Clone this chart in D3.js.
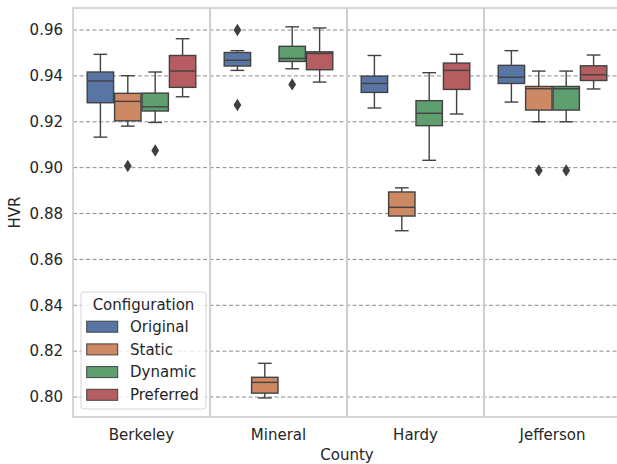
<!DOCTYPE html>
<html>
<head>
<meta charset="utf-8">
<script src="https://cdn.jsdelivr.net/npm/d3@7"></script>
<style>
  body { margin: 0; background: #fff; }
  svg { display: block; font-family: "DejaVu Sans", sans-serif; }
</style>
</head>
<body>
<svg id="chart" width="617" height="464"></svg>
<script>
// counties on the x axis, configurations are the hue
var counties = ["Berkeley", "Mineral", "Hardy", "Jefferson"];
var configs = ["Original", "Static", "Dynamic", "Preferred"];
var colors = ["#5975a4", "#cc8963", "#5f9e6e", "#b55d60"];
var yTicks = [0.80, 0.82, 0.84, 0.86, 0.88, 0.90, 0.92, 0.94, 0.96];

// [whisker low, q1, median, q3, whisker high] per county
var original = [
  [0.9133, 0.9283, 0.9378, 0.9417, 0.9494],
  [0.9424, 0.9443, 0.9468, 0.9502, 0.9510],
  [0.9260, 0.9328, 0.9367, 0.9399, 0.9489],
  [0.9286, 0.9367, 0.9394, 0.9446, 0.9510]
];
var staticCfg = [
  [0.9181, 0.9204, 0.9289, 0.9324, 0.9401],
  [0.7996, 0.8017, 0.8064, 0.8086, 0.8147],
  [0.8725, 0.8789, 0.8827, 0.8894, 0.8912],
  [0.9200, 0.9251, 0.9344, 0.9354, 0.9421]
];
var dynamic = [
  [0.9197, 0.9247, 0.9265, 0.9325, 0.9417],
  [0.9431, 0.9463, 0.9476, 0.9529, 0.9614],
  [0.9032, 0.9183, 0.9237, 0.9292, 0.9414],
  [0.9200, 0.9251, 0.9344, 0.9354, 0.9421]
];
var preferred = [
  [0.9309, 0.9350, 0.9421, 0.9489, 0.9562],
  [0.9373, 0.9427, 0.9498, 0.9505, 0.9609],
  [0.9234, 0.9341, 0.9424, 0.9456, 0.9494],
  [0.9343, 0.9380, 0.9405, 0.9444, 0.9491]
];
// outliers: [county, config, value]
var outliers = [
  ["Berkeley", "Static", 0.9007],
  ["Berkeley", "Dynamic", 0.9075],
  ["Mineral", "Original", 0.9600],
  ["Mineral", "Original", 0.9273],
  ["Mineral", "Dynamic", 0.9363],
  ["Jefferson", "Static", 0.8988],
  ["Jefferson", "Dynamic", 0.8988]
];

var stats = [original, staticCfg, dynamic, preferred];
var boxes = [];
configs.forEach(function(c, ci) {
  counties.forEach(function(county, k) {
    var s = stats[ci][k];
    boxes.push({county: county, config: c, color: colors[ci],
      lo: s[0], q1: s[1], med: s[2], q3: s[3], hi: s[4]});
  });
});

var svg = d3.select("#chart");
var pLeft = 73, pRight = 621, pTop = 8, pBottom = 417;
var fs = 15;

var x = d3.scaleBand().domain(counties).range([pLeft, pRight]).padding(0);
var xInner = d3.scaleBand().domain(configs)
  .range([x.bandwidth() * 0.1, x.bandwidth() * 0.9]).padding(0);
var y = d3.scaleLinear().domain([0.7913, 0.9696]).range([pBottom, pTop]);

// gridlines
svg.append("g").selectAll("line").data(yTicks).enter().append("line")
  .attr("x1", pLeft).attr("x2", pRight)
  .attr("y1", function(d) { return y(d); })
  .attr("y2", function(d) { return y(d); })
  .attr("stroke", "#8c8c8c").attr("stroke-width", 1)
  .attr("stroke-dasharray", "4,2.5");

// separators between counties
svg.append("g").selectAll("line").data(counties.slice(1)).enter().append("line")
  .attr("x1", function(d) { return x(d); })
  .attr("x2", function(d) { return x(d); })
  .attr("y1", pTop).attr("y2", pBottom)
  .attr("stroke", "#cfcfcf").attr("stroke-width", 2);

// spines
svg.append("rect")
  .attr("x", pLeft).attr("y", pTop)
  .attr("width", pRight - pLeft).attr("height", pBottom - pTop)
  .attr("fill", "none").attr("stroke", "#cccccc").attr("stroke-width", 1.6);

var edge = "#424242";
var lw = 1.4;
var g = svg.append("g").selectAll("g").data(boxes).enter().append("g")
  .attr("transform", function(d) { return "translate(" + (x(d.county) + xInner(d.config)) + ",0)"; });
var bw = xInner.bandwidth();

g.append("line")
  .attr("x1", bw / 2).attr("x2", bw / 2)
  .attr("y1", function(d) { return y(d.hi); })
  .attr("y2", function(d) { return y(d.q3); })
  .attr("stroke", edge).attr("stroke-width", lw);
g.append("line")
  .attr("x1", bw / 2).attr("x2", bw / 2)
  .attr("y1", function(d) { return y(d.q1); })
  .attr("y2", function(d) { return y(d.lo); })
  .attr("stroke", edge).attr("stroke-width", lw);
g.append("line")
  .attr("x1", bw / 4).attr("x2", bw * 3 / 4)
  .attr("y1", function(d) { return y(d.hi); })
  .attr("y2", function(d) { return y(d.hi); })
  .attr("stroke", edge).attr("stroke-width", lw);
g.append("line")
  .attr("x1", bw / 4).attr("x2", bw * 3 / 4)
  .attr("y1", function(d) { return y(d.lo); })
  .attr("y2", function(d) { return y(d.lo); })
  .attr("stroke", edge).attr("stroke-width", lw);
g.append("rect")
  .attr("x", 0.5).attr("width", bw - 1)
  .attr("y", function(d) { return y(d.q3); })
  .attr("height", function(d) { return y(d.q1) - y(d.q3); })
  .attr("fill", function(d) { return d.color; })
  .attr("stroke", edge).attr("stroke-width", lw);
g.append("line")
  .attr("x1", 0.5).attr("x2", bw - 0.5)
  .attr("y1", function(d) { return y(d.med); })
  .attr("y2", function(d) { return y(d.med); })
  .attr("stroke", edge).attr("stroke-width", lw);

// outlier diamonds
svg.append("g").selectAll("path").data(outliers).enter().append("path")
  .attr("transform", function(d) {
    return "translate(" + (x(d[0]) + xInner(d[1]) + bw / 2) + "," + y(d[2]) + ")";
  })
  .attr("d", "M0,-6.2L3.9,0L0,6.2L-3.9,0Z")
  .attr("fill", "#3f3f3f");

// y tick labels
svg.append("g").selectAll("text").data(yTicks).enter().append("text")
  .attr("x", pLeft - 10).attr("y", function(d) { return y(d); })
  .attr("dy", "0.35em").attr("text-anchor", "end")
  .attr("font-size", fs).attr("fill", "#262626")
  .text(function(d) { return d3.format(".2f")(d); });

// x tick labels
svg.append("g").selectAll("text").data(counties).enter().append("text")
  .attr("x", function(d) { return x(d) + x.bandwidth() / 2; })
  .attr("y", 435).attr("dy", "0.35em").attr("text-anchor", "middle")
  .attr("font-size", fs).attr("fill", "#262626")
  .text(function(d) { return d; });

svg.append("text")
  .attr("x", 347).attr("y", 455).attr("dy", "0.35em")
  .attr("text-anchor", "middle").attr("font-size", fs).attr("fill", "#262626")
  .text("County");
svg.append("text")
  .attr("transform", "translate(15," + ((pTop + pBottom) / 2) + ") rotate(-90)")
  .attr("dy", "0.35em").attr("text-anchor", "middle")
  .attr("font-size", fs).attr("fill", "#262626")
  .text("HVR");

// legend
var lg = svg.append("g").attr("transform", "translate(81,292)");
lg.append("rect")
  .attr("width", 125).attr("height", 117).attr("rx", 3)
  .attr("fill", "#ffffff").attr("fill-opacity", 0.8)
  .attr("stroke", "#d5d5d5").attr("stroke-width", 1);
lg.append("text")
  .attr("x", 62.5).attr("y", 13).attr("dy", "0.35em")
  .attr("text-anchor", "middle").attr("font-size", fs).attr("fill", "#262626")
  .text("Configuration");
var items = lg.selectAll("g.item").data(configs).enter().append("g")
  .attr("class", "item")
  .attr("transform", function(d, i) { return "translate(0," + (34.7 + i * 22.7) + ")"; });
items.append("rect")
  .attr("x", 5.7).attr("y", -5.5).attr("width", 31).attr("height", 11)
  .attr("fill", function(d, i) { return colors[i]; })
  .attr("stroke", edge).attr("stroke-width", 1);
items.append("text")
  .attr("x", 49).attr("dy", "0.35em")
  .attr("font-size", fs).attr("fill", "#262626")
  .text(function(d) { return d; });
</script>
</body>
</html>
